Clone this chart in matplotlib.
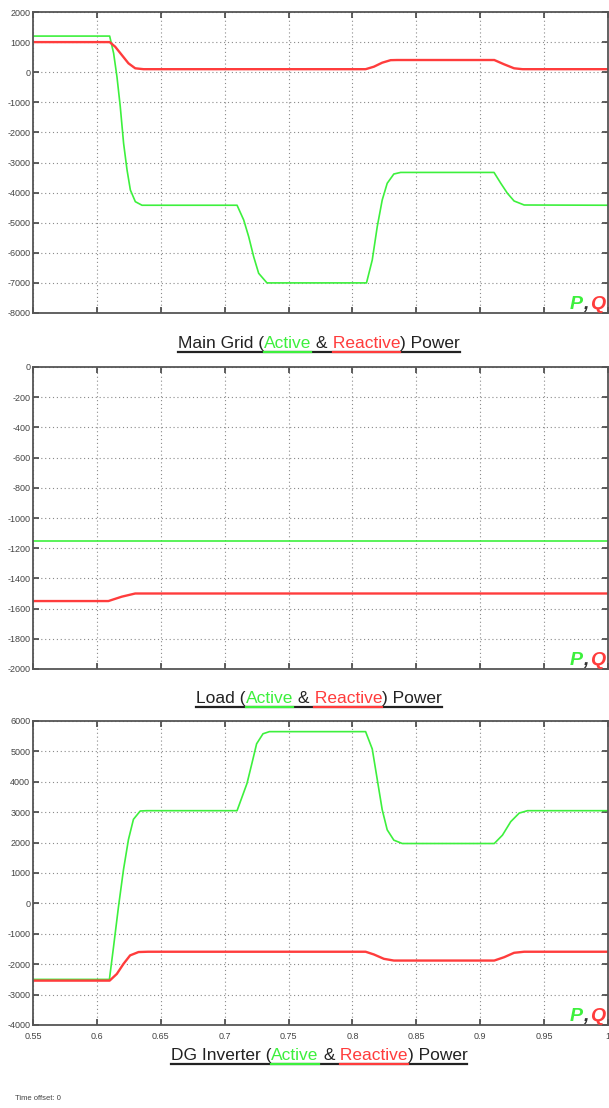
import matplotlib
matplotlib.use('Agg')
import matplotlib.pyplot as plt
from matplotlib.lines import Line2D

# ---- DATA ----
grid_p_t = [0.55, 0.61, 0.6131, 0.6157, 0.6183, 0.6209, 0.6236, 0.6262, 0.6301, 0.6353,
            0.7097, 0.7149, 0.7188, 0.7227, 0.7266, 0.7331,
            0.8110, 0.8155, 0.8194, 0.8233, 0.8272, 0.8324, 0.8377,
            0.9108, 0.9161, 0.9213, 0.9265, 0.9344, 1.0]
grid_p = [1200, 1200, 628, -149, -1146, -2362, -3249, -3914, -4302, -4420,
          -4420, -4910, -5465, -6130, -6681, -7000,
          -7000, -6239, -5133, -4246, -3691, -3382, -3330,
          -3330, -3691, -4024, -4279, -4412, -4420]
grid_q_t = [0.55, 0.61, 0.6143, 0.6195, 0.6247, 0.6300, 0.6365,
            0.8103, 0.8168, 0.8233, 0.8299, 0.8350,
            0.9110, 0.9187, 0.9265, 0.9331, 1.0]
grid_q = [1000, 1000, 847, 571, 295, 130, 100,
          100, 183, 316, 400, 405,
          405, 262, 130, 100, 100]

load_p_t = [0.55, 1.0]
load_p = [-1150, -1150]
load_q_t = [0.55, 0.609, 0.6195, 0.630, 1.0]
load_q = [-1550, -1550, -1521, -1500, -1500]

dg_p_t = [0.55, 0.6098, 0.6130, 0.6169, 0.6208, 0.6247, 0.6286, 0.6339, 0.6391,
          0.7097, 0.7136, 0.7175, 0.7214, 0.7250, 0.7300, 0.7350,
          0.8103, 0.8155, 0.8194, 0.8233, 0.8272, 0.8324, 0.8390,
          0.9110, 0.9174, 0.9239, 0.9305, 0.9370, 1.0]
dg_p = [-2500, -2500, -1440, -110, 1105, 2100, 2765, 3040, 3050,
        3050, 3500, 3950, 4620, 5250, 5580, 5650,
        5650, 5080, 4080, 3080, 2420, 2080, 1970,
        1970, 2245, 2690, 2970, 3050, 3050]
dg_q_t = [0.55, 0.61, 0.6156, 0.6208, 0.6260, 0.6326, 0.64,
          0.8103, 0.8168, 0.8246, 0.8324,
          0.9110, 0.9187, 0.9265, 0.9344, 1.0]
dg_q = [-2540, -2540, -2320, -1990, -1710, -1600, -1590,
        -1590, -1680, -1823, -1880,
        -1880, -1770, -1625, -1590, -1590]

x_ticks = [0.55, 0.6, 0.65, 0.7, 0.75, 0.8, 0.85, 0.9, 0.95, 1]
x_labels = ['0.55', '0.6', '0.65', '0.7', '0.75', '0.8', '0.85', '0.9', '0.95', '1']

titles = [
    ['Main Grid (', 'Active', ' &', ' Reactive', ') Power'],
    ['Load (', 'Active', ' &', ' Reactive', ') Power'],
    ['DG Inverter (', 'Active', ' &', ' Reactive', ') Power'],
]

GREEN = '#3df03d'
RED = '#ff3c3c'
W, H = 609, 1108

plt.rcParams['font.family'] = ['Liberation Sans', 'DejaVu Sans']
plt.rcParams['axes.unicode_minus'] = False

fig = plt.figure(figsize=(W / 100, H / 100), dpi=100)
renderer = fig.canvas.get_renderer()


def box(l, t, r, b):
    return [l / W, 1 - b / H, (r - l) / W, (b - t) / H]


def text_w(s, **kw):
    t = fig.text(0, 0, s, **kw)
    w = t.get_window_extent(renderer).width
    t.remove()
    return w


def fx(x):
    return x / W


def fy(y):
    return 1 - y / H


def underlined_title(parts, cx, base, fs=12.5):
    kw = dict(fontsize=fs)
    total = text_w(''.join(parts), **kw)
    x0 = cx - total / 2
    cols = ['#222222', GREEN, '#222222', RED, '#222222']
    prefix = ''
    ends = []
    for part, c in zip(parts, cols):
        prefix += part
        end = x0 + text_w(prefix, **kw)
        ends.append(end)
        fig.text(fx(end), fy(base), part, color=c, ha='right', va='baseline', **kw)
    uy = fy(base + 4)
    fig.add_artist(Line2D([fx(x0), fx(ends[-1])], [uy, uy], color='#222222', lw=1.6))
    fig.add_artist(Line2D([fx(ends[0]), fx(ends[1])], [uy, uy], color=GREEN, lw=1.6))
    r0 = ends[3] - text_w('Reactive', **kw)
    fig.add_artist(Line2D([fx(r0), fx(ends[3])], [uy, uy], color=RED, lw=1.6))


def pq_label(right, base, fs=14):
    kw = dict(fontsize=fs, fontweight='bold', fontstyle='italic')
    wq = text_w('Q', **kw)
    wc = text_w(',', **kw)
    fig.text(fx(right), fy(base), 'Q', color=RED, ha='right', va='baseline', **kw)
    fig.text(fx(right - wq - 1), fy(base), ',', color='#333333', ha='right', va='baseline', **kw)
    fig.text(fx(right - wq - wc - 2), fy(base), 'P', color=GREEN, ha='right', va='baseline', **kw)


def style_axes(ax, ylim, ystep, show_x):
    ax.set_xlim(0.55, 1.0)
    ax.set_ylim(*ylim)
    ax.set_xticks(x_ticks)
    ax.set_xticklabels(x_labels if show_x else [])
    yt = list(range(ylim[0], ylim[1] + 1, ystep))
    ax.set_yticks(yt)
    ax.set_yticklabels([str(v) for v in yt])
    ax.grid(True, color='#8a8a8a', lw=0.8, linestyle=(0, (1, 2.5)))
    ax.tick_params(direction='in', length=4, width=1.2, color='#444444',
                   top=True, right=True, labelsize=6.5, labelcolor='#444444', pad=2)
    ax.tick_params(axis='x', pad=5)
    for s in ax.spines.values():
        s.set_color('#555555')
        s.set_linewidth(1.3)


panels = [
    (box(33, 12, 608, 313), (-8000, 2000), 1000, grid_p_t, grid_p, grid_q_t, grid_q, False),
    (box(33, 367, 608, 669), (-2000, 0), 200, load_p_t, load_p, load_q_t, load_q, False),
    (box(33, 721, 608, 1025), (-4000, 6000), 1000, dg_p_t, dg_p, dg_q_t, dg_q, True),
]
bottoms = [313, 669, 1025]
title_base = [348, 703, 1060]

for i, (pos, ylim, ystep, pt, p, qt, q, show_x) in enumerate(panels):
    ax = fig.add_axes(pos)
    ax.plot(pt, p, color=GREEN, lw=1.2)
    ax.plot(qt, q, color=RED, lw=1.7)
    style_axes(ax, ylim, ystep, show_x)
    pq_label(605, bottoms[i] - 4)
    underlined_title(titles[i], 319, title_base[i])

fig.text(fx(15), fy(1100), 'Time offset: 0', fontsize=5.5, color='#444444', va='baseline')

fig.savefig('out.png', dpi=100)
